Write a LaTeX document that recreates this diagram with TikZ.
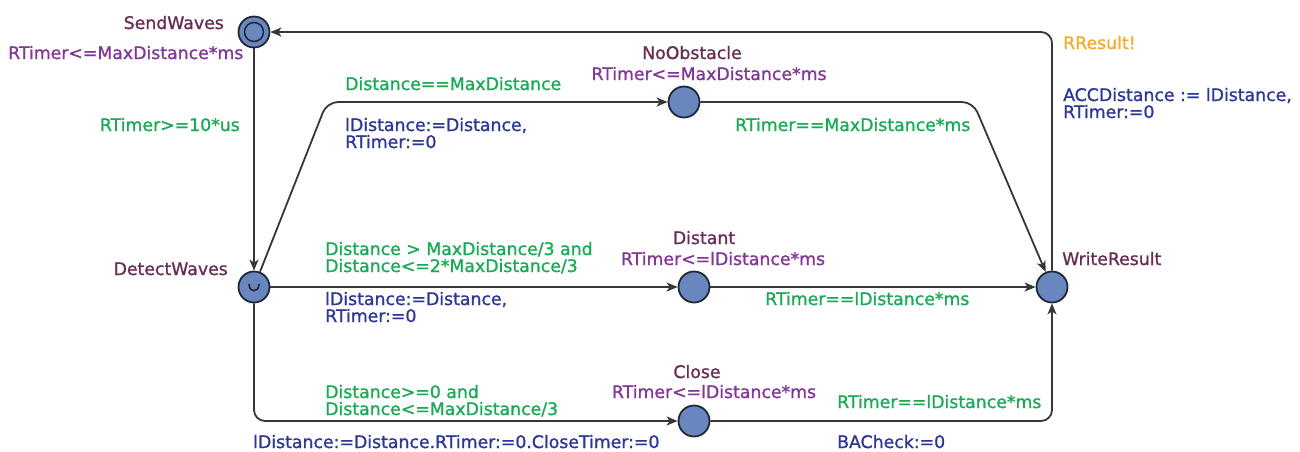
\documentclass[tikz,border=0pt]{standalone}
\usepackage{fontspec}
\setmainfont{DejaVu Sans}[BoldFont={DejaVu Sans},BoldFeatures={FakeBold=1.2}]
\usetikzlibrary{arrows.meta}
\definecolor{locname}{RGB}{105,45,85}
\definecolor{invcol}{RGB}{130,55,150}
\definecolor{guardcol}{RGB}{25,170,85}
\definecolor{assigncol}{RGB}{45,55,150}
\definecolor{synccol}{RGB}{245,170,45}
\definecolor{locfill}{RGB}{105,135,190}
\definecolor{locdraw}{RGB}{30,40,55}
\definecolor{edgecol}{RGB}{55,55,55}
\tikzset{
  loc/.style={circle, draw=locdraw, fill=locfill, line width=1.8pt, minimum size=31pt, inner sep=0pt},
  inner/.style={circle, draw=locdraw, line width=1.5pt, minimum size=19pt, inner sep=0pt},
  txt/.style={inner sep=0pt, font=\fontsize{17.3}{17}\selectfont\bfseries, align=left},
  lname/.style={txt, text=locname},
  linv/.style={txt, text=invcol},
  lguard/.style={txt, text=guardcol},
  lassign/.style={txt, text=assigncol},
  lsync/.style={txt, text=synccol},
  edge/.style={draw=edgecol, line width=1.8pt, rounded corners=11pt, -{Stealth[length=11pt,width=9pt,inset=3pt]}},
}
\begin{document}
\begin{tikzpicture}[x=1pt,y=-1pt]
\path[use as bounding box] (0,0) rectangle (1300,451);
% locations
\node[loc] (send) at (254,32) {};
\node[inner] (sendin) at (send) {};
\node[loc] (detect) at (254,287) {};
\node[loc] (noobs) at (684,102) {};
\node[loc] (distant) at (694,287) {};
\node[loc] (close) at (694,421) {};
\node[loc] (write) at (1052,287) {};
\draw[draw=locdraw, line width=1.6pt] ([shift={(-5pt,3pt)}]detect.center) .. controls ([shift={(-5pt,-6pt)}]detect.center) and ([shift={(5pt,-6pt)}]detect.center) .. ([shift={(5pt,3pt)}]detect.center);
% corner coordinates
\coordinate (c1) at (327,102);
\coordinate (c2) at (973,102);
% edges
\draw[edge] (send) -- (detect);
\draw[edge] (detect) -- (c1) -- (noobs);
\draw[edge] (noobs) -- (c2) -- (write);
\draw[edge] (detect) -- (distant);
\draw[edge] (distant) -- (write);
\draw[edge] (detect) |- (close);
\draw[edge] (close) -| (write);
\draw[edge] (write) |- (send);
% location names and invariants
\node[lname, anchor=base east] (nsend) at (224,29) {SendWaves};
\node[linv, anchor=base west] (isend) at (8,59) {RTimer<=MaxDistance*ms};
\node[lname, anchor=base] (nnoobs) at (692,59) {NoObstacle};
\node[linv, anchor=base] (inoobs) at (709,80) {RTimer<=MaxDistance*ms};
\node[lname, anchor=base east] (ndetect) at (228,275) {DetectWaves};
\node[lname, anchor=base] (ndistant) at (704,244) {Distant};
\node[linv, anchor=base] (idistant) at (723,265) {RTimer<=lDistance*ms};
\node[lname, anchor=base] (nclose) at (697,378) {Close};
\node[linv, anchor=base] (iclose) at (714,398) {RTimer<=lDistance*ms};
\node[lname, anchor=base west] (nwrite) at (1062,265) {WriteResult};
% edge labels
\node[lguard, anchor=base east] (g1) at (240,131) {RTimer>=10*us};
\node[lguard, anchor=base west] (g2) at (345,90) {Distance==MaxDistance};
\node[lassign, anchor=base west] (a2) at (345,148) {lDistance:=Distance,\\RTimer:=0};
\node[lguard, anchor=base west] (g3) at (735,131) {RTimer==MaxDistance*ms};
\node[lsync, anchor=base west] (s4) at (1063,49) {RResult!};
\node[lassign, anchor=base west] (a4) at (1063,118) {ACCDistance := lDistance,\\RTimer:=0};
\node[lguard, anchor=base west] (g5) at (325,272) {Distance > MaxDistance/3 and\\Distance<=2*MaxDistance/3};
\node[lassign, anchor=base west] (a5) at (325,322) {lDistance:=Distance,\\RTimer:=0};
\node[lguard, anchor=base west] (g6) at (765,305) {RTimer==lDistance*ms};
\node[lguard, anchor=base west] (g7) at (325,415) {Distance>=0 and\\Distance<=MaxDistance/3};
\node[lassign, anchor=base west] (a7) at (253,448) {lDistance:=Distance.RTimer:=0.CloseTimer:=0};
\node[lguard, anchor=base west] (g8) at (837,408) {RTimer==lDistance*ms};
\node[lassign, anchor=base west] (a8) at (837,448) {BACheck:=0};
\end{tikzpicture}
\end{document}
